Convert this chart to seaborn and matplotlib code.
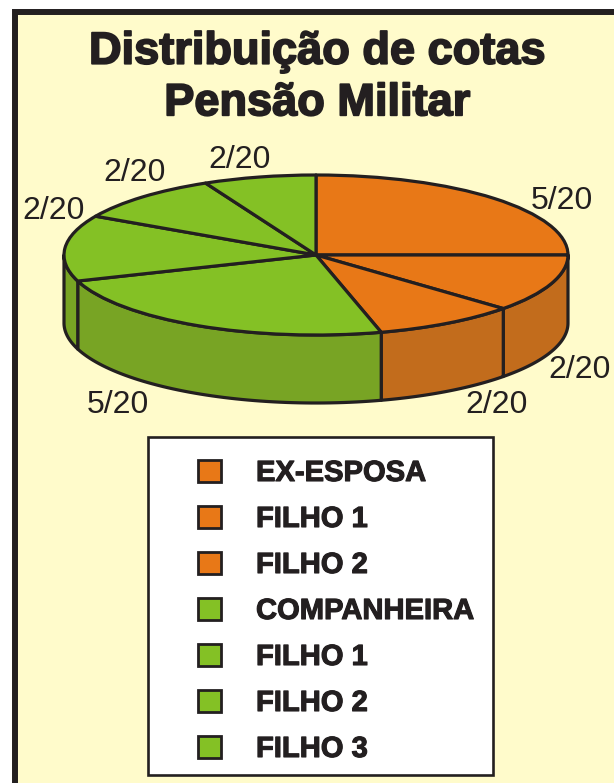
import numpy as np
import matplotlib
matplotlib.use("Agg")
import matplotlib.pyplot as plt
import matplotlib.patheffects as pe
from matplotlib.patches import Rectangle, Patch
import seaborn as sns

# data
names = ["EX-ESPOSA", "FILHO 1", "FILHO 2", "COMPANHEIRA", "FILHO 1", "FILHO 2", "FILHO 3"]
shares = ["5/20", "2/20", "2/20", "5/20", "2/20", "2/20", "2/20"]
drawn_sweep = [90, 42, 33, 86, 48, 35, 26]   # slice sizes as drawn in the picture (degrees)
families = ["o", "o", "o", "g", "g", "g", "g"]
title_lines = "Distribuição de cotas\nPensão Militar"

INK = "#231F20"
BG = "#FFFBCB"
TOP = {"o": "#E87817", "g": "#84C125"}
SIDE = {"o": "#C26C1C", "g": "#78A424"}

sns.set_theme(style="white")
plt.rcParams["font.family"] = ["Liberation Sans", "DejaVu Sans"]

W, H = 614, 783
fig = plt.figure(figsize=(W / 100, H / 100), dpi=100, facecolor="white")
bg = fig.add_axes([0, 0, 1, 1])
bg.set_xlim(0, W)
bg.set_ylim(H, 0)
bg.axis("off")
bg.add_patch(Rectangle((15, 12), W + 40, H + 40, facecolor=BG, edgecolor=INK, linewidth=4.3))

heavy = [pe.withStroke(linewidth=1.3, foreground=INK)]
bg.text(317, 78, title_lines, ha="center", va="center", fontsize=32.5, fontweight="bold",
        color=INK, linespacing=1.33, path_effects=heavy)

# pie: unit circle stretched to the drawn ellipse
L, R, T, B = 64, 568, 175, 335
DEPTH = 68 / ((B - T) / 2)
ax = fig.add_axes([L / W, 1 - B / H, (R - L) / W, (B - T) / H], zorder=2)
ax.patch.set_alpha(0)
colors = sns.color_palette([TOP[f] for f in families])
ax.pie(drawn_sweep, colors=colors, startangle=90, counterclock=False, radius=1,
       wedgeprops=dict(edgecolor=INK, linewidth=2.3, clip_on=False, joinstyle="round", zorder=3))
ax.set_aspect("auto")
ax.set_xlim(-1, 1)
ax.set_ylim(-1, 1)
ax.axis("off")

# walls
edges = np.cumsum([0] + drawn_sweep)
for i, f in enumerate(families):
    a0, a1 = max(edges[i], 90), min(edges[i + 1], 270)
    if a1 <= a0:
        continue
    t = np.radians(90 - np.linspace(a0, a1, 60))
    x, y = np.cos(t), np.sin(t)
    ax.fill(np.r_[x, x[::-1]], np.r_[y, y[::-1] - DEPTH], facecolor=SIDE[f], edgecolor=INK,
            linewidth=2.3, joinstyle="round", clip_on=False, zorder=1)

# share labels
label_xy = [(562, 201), (580, 370), (497, 405), (118, 405), (54, 211), (135, 173), (240, 160)]
for s, (x, y) in zip(shares, label_xy):
    bg.text(x, y, s, ha="center", va="center", fontsize=23, color=INK)

# legend
bg.add_patch(Rectangle((148, 437), 345, 338, facecolor="white", edgecolor=INK, linewidth=1.9, zorder=2))
handles = [Patch(facecolor=TOP[f], edgecolor=INK, linewidth=2) for f in families]
fs = 21
px = fs * 100 / 72
leg = bg.legend(handles, names, loc="upper left", bbox_to_anchor=(198 / W, 1 - 459 / H),
                bbox_transform=fig.transFigure, frameon=False, borderpad=0, borderaxespad=0,
                fontsize=fs, handlelength=23 / px, handleheight=23 / px,
                handletextpad=35 / px, labelspacing=(46.2 - 28.2) / px,
                prop=dict(weight="bold", size=fs))
leg.set_zorder(3)
for t in leg.get_texts():
    t.set_color(INK)
    t.set_path_effects([pe.withStroke(linewidth=0.8, foreground=INK)])

fig.savefig("out.png", dpi=100, facecolor="white")
